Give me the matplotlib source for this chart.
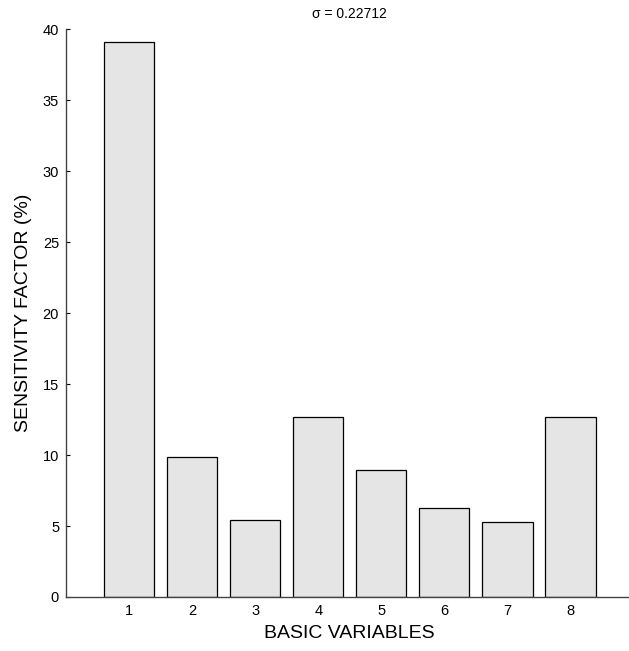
import numpy as np
import matplotlib.pyplot as plt

plt.rcParams.update({
    "font.family": ["Liberation Sans", "DejaVu Sans"],
    "font.size": 10,
})

# Data
variables = [1, 2, 3, 4, 5, 6, 7, 8]
sensitivity = [39.1, 9.86, 5.45, 12.66, 8.92, 6.29, 5.26, 12.66]
sigma_label = "σ = 0.22712"

BAR_FACE = "#e5e5e5"
AXIS_COLOR = "#444444"

fig = plt.figure(figsize=(6.29, 6.51), dpi=100)
ax = fig.add_axes([0.105, 0.083, 0.902, 0.872])

ax.bar(variables, sensitivity, width=0.8, color=BAR_FACE,
       edgecolor="black", linewidth=0.9, zorder=2)

ax.set_xlim(0, 9)
ax.set_ylim(0, 40)
ax.set_xticks(variables)
ax.set_yticks(np.arange(0, 41, 5))
ax.tick_params(direction="in", length=3, width=0.8, colors="black",
               labelsize=10.5, pad=5)

for side in ("top", "right"):
    ax.spines[side].set_visible(False)
for side in ("left", "bottom"):
    ax.spines[side].set_color(AXIS_COLOR)
    ax.spines[side].set_linewidth(1.0)
    ax.spines[side].set_zorder(3)

ax.set_xlabel("BASIC VARIABLES", fontsize=14, labelpad=5)
ax.set_ylabel("SENSITIVITY FACTOR (%)", fontsize=14, labelpad=8)
ax.set_title(sigma_label, fontsize=10, pad=8)

fig.savefig("out.png", dpi=100)
